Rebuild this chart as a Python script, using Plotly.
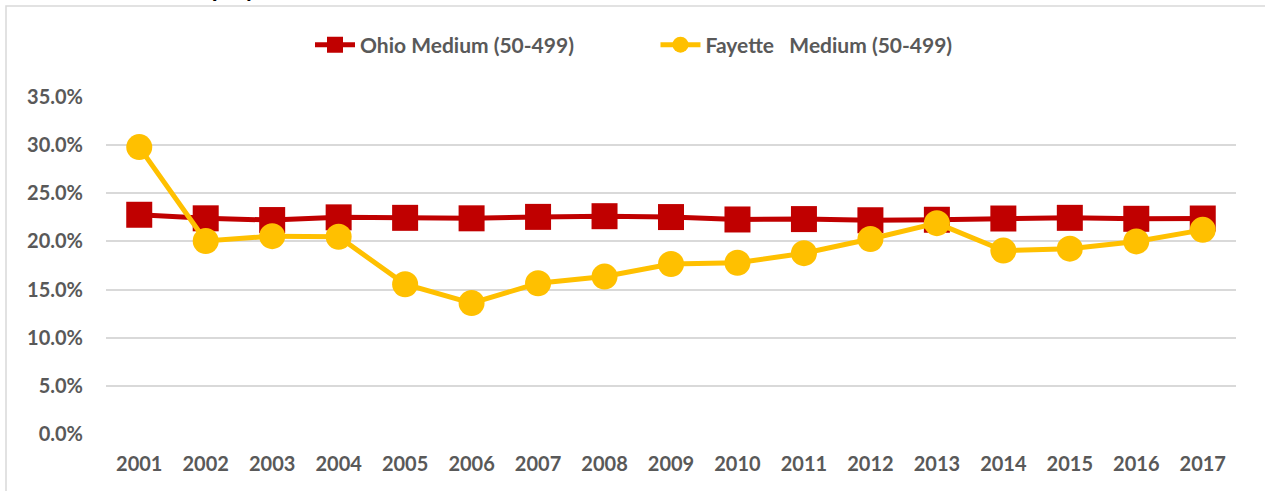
import plotly.graph_objects as go

years = [str(y) for y in range(2001, 2018)]
ohio = [0.2277, 0.2240, 0.2222, 0.2250, 0.2245, 0.2240, 0.2255, 0.2262, 0.2253,
        0.2228, 0.2232, 0.2220, 0.2225, 0.2238, 0.2245, 0.2235, 0.2238]
fayette = [0.2980, 0.2005, 0.2055, 0.2048, 0.1555, 0.1360, 0.1565, 0.1635, 0.1765,
           0.1778, 0.1878, 0.2025, 0.2190, 0.1905, 0.1925, 0.2000, 0.2120]
ytick_vals = [0, 0.05, 0.10, 0.15, 0.20, 0.25, 0.30, 0.35]
ytick_text = ["0.0%", "5.0%", "10.0%", "15.0%", "20.0%", "25.0%", "30.0%", "35.0%"]

W, H = 1265, 491
L, R, T, B = 106, 29, 97, 57
pw, ph = W - L - R, H - T - B

def px(x):
    return (x - L) / pw

def py(y):
    return 1 - (y - T) / ph

font_fam = "Lato, 'Open Sans', Arial, sans-serif"
NB = "\u00a0"

fig = go.Figure()
fig.add_trace(go.Scatter(
    x=years, y=ohio, mode="lines+markers", name="Ohio Medium (50-499)" + NB * 15,
    line=dict(color="#C00000", width=5),
    marker=dict(symbol="square", size=26, color="#C00000"),
))
fig.add_trace(go.Scatter(
    x=years, y=fayette, mode="lines+markers",
    name="Fayette" + NB * 3 + "Medium (50-499)",
    line=dict(color="#FFC000", width=5),
    marker=dict(symbol="circle", size=26, color="#FFC000"),
))

fig.update_layout(
    width=W, height=H,
    margin=dict(l=L, r=R, t=T, b=B),
    paper_bgcolor="white", plot_bgcolor="white",
    font=dict(family=font_fam, color="#595959", size=20, weight="bold"),
    showlegend=True,
    legend=dict(orientation="h", x=px(310), xanchor="left", y=py(45), yanchor="middle",
                font=dict(size=21, color="#595959", weight="bold"), itemwidth=40,
                bgcolor="rgba(0,0,0,0)"),
    xaxis=dict(type="category", showgrid=False, zeroline=False, showline=False,
               ticks="", tickfont=dict(size=20, color="#595959", weight="bold"),
               range=[-0.5, 16.5], fixedrange=True, ticklabelstandoff=16),
    yaxis=dict(range=[0, 0.35], tickvals=ytick_vals, ticktext=ytick_text,
               showgrid=True, gridcolor="#D9D9D9", gridwidth=1.5,
               zeroline=False, showline=False, ticks="",
               tickfont=dict(size=20, color="#595959", weight="bold"),
               ticklabelstandoff=22),
    shapes=[dict(type="rect", xref="paper", yref="paper",
                 x0=px(6), x1=px(1275), y0=py(500), y1=py(6),
                 line=dict(color="#D9D9D9", width=1.5), fillcolor="rgba(0,0,0,0)",
                 layer="below")],
    annotations=[dict(text="<b>Employment</b>", xref="paper", yref="paper",
                      x=px(176), y=py(4), xanchor="left", yanchor="bottom",
                      showarrow=False, font=dict(size=24, color="#000000",
                                                 family=font_fam))],
)

fig.write_html("out.html", config={"displayModeBar": False},
               post_script="document.body.style.margin='0';")
